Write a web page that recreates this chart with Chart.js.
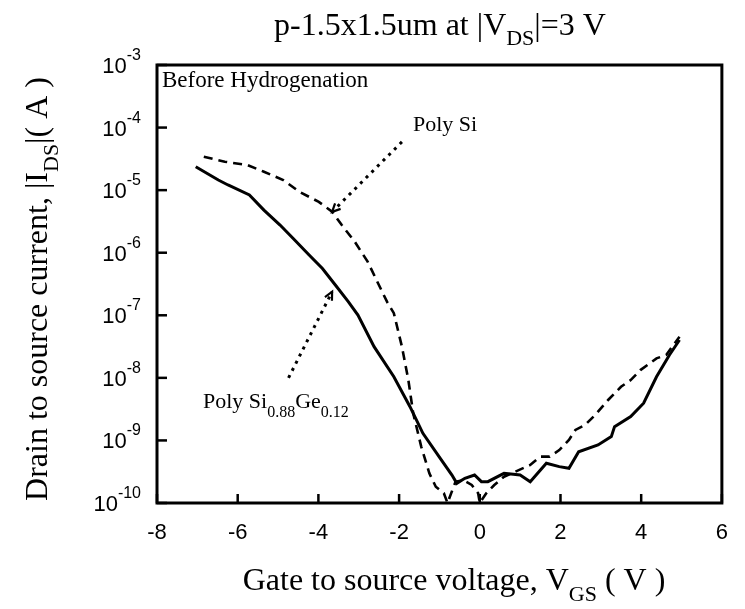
<!DOCTYPE html>
<html><head><meta charset="utf-8">
<script src="https://cdn.jsdelivr.net/npm/chart.js@4.4.1/dist/chart.umd.min.js"></script>
<style>html,body{margin:0;padding:0;background:#fff;}#wrap{width:745px;height:609px;}</style>
</head><body><div id="wrap"><canvas id="c" width="745" height="609"></canvas></div>
<script>
// ---- data ----
const vgsSiGe = [-7.04,-6.48,-6.24,-5.71,-5.35,-4.95,-4.63,-4.23,-3.90,-3.58,-3.26,-3.02,-2.62,-2.13,-1.73,-1.41,-1.01,-0.69,-0.57,-0.37,-0.13,0.04,0.20,0.60,1.00,1.25,1.65,1.97,2.21,2.45,2.93,3.26,3.34,3.74,4.06,4.38,4.70,4.95];
const idsSiGe = [2.37e-5,1.45e-5,1.21e-5,8.4e-6,4.8e-6,2.77e-6,1.70e-6,9.2e-7,5.6e-7,3.05e-7,1.65e-7,1.01e-7,3.15e-8,1.04e-8,3.46e-9,1.30e-9,5.5e-10,2.80e-10,2.06e-10,2.48e-10,2.80e-10,2.19e-10,2.19e-10,2.98e-10,2.80e-10,2.19e-10,4.31e-10,3.81e-10,3.58e-10,6.6e-10,8.45e-10,1.15e-9,1.66e-9,2.40e-9,3.93e-9,1.04e-8,2.32e-8,4.03e-8];
const vgsSi = [-6.84,-6.32,-5.76,-5.35,-4.87,-4.47,-3.99,-3.66,-3.42,-3.10,-2.78,-2.54,-2.30,-2.13,-1.93,-1.77,-1.65,-1.45,-1.25,-1.09,-0.89,-0.80,-0.60,-0.40,-0.20,-0.04,0.00,0.16,0.36,0.60,1.25,1.49,1.73,1.97,2.21,2.37,2.61,2.86,3.18,3.50,3.74,3.98,4.38,4.62,4.95];
const idsSi = [3.43e-5,2.85e-5,2.52e-5,1.97e-5,1.45e-5,9.4e-6,6.5e-6,4.52e-6,2.77e-6,1.50e-6,7.2e-7,3.44e-7,1.65e-7,1.08e-7,3.15e-8,9.2e-9,2.71e-9,7.9e-10,2.98e-10,1.82e-10,1.43e-10,1.0e-10,2.2e-10,2.3e-10,1.94e-10,1.43e-10,1.0e-10,1.43e-10,1.94e-10,2.63e-10,4.05e-10,5.5e-10,5.5e-10,7.0e-10,1.02e-9,1.47e-9,1.77e-9,2.55e-9,4.43e-9,7.2e-9,9.2e-9,1.33e-8,2.05e-8,2.32e-8,4.55e-8];
const xTickValues = [-8,-6,-4,-2,0,2,4,6];
const yTickExponents = [-3,-4,-5,-6,-7,-8,-9,-10];
// annotation arrows: [from V, from I, to V, to I]
const arrowPolySi = [-1.93, 5.9e-5, -3.66, 4.5e-6];
const arrowPolySiGe = [-4.74, 1.0e-8, -3.66, 2.38e-7];

const SERIF = '"Liberation Serif", "Times New Roman", serif';
const SANS = '"Liberation Sans", Arial, sans-serif';

function pts(xs, ys){ return xs.map((x,i)=>({x:x, y:ys[i]})); }

function drawRich(ctx, parts, x, y, align){
  let w = 0;
  parts.forEach(p => { ctx.font = p.size + 'px ' + p.fam; p.w = ctx.measureText(p.t).width; w += p.w; });
  let cx = align === 'center' ? x - w/2 : (align === 'right' ? x - w : x);
  ctx.textAlign = 'left'; ctx.textBaseline = 'alphabetic';
  parts.forEach(p => { ctx.font = p.size + 'px ' + p.fam; ctx.fillText(p.t, cx, y + (p.dy||0)); cx += p.w; });
}

function arrow(ctx, xs, ys, a){
  const x1 = xs.getPixelForValue(a[0]), y1 = ys.getPixelForValue(a[1]);
  const x2 = xs.getPixelForValue(a[2]), y2 = ys.getPixelForValue(a[3]);
  ctx.save();
  ctx.strokeStyle = '#000'; ctx.lineWidth = 3; ctx.setLineDash([3,5]); ctx.lineCap = 'butt';
  ctx.beginPath(); ctx.moveTo(x1,y1); ctx.lineTo(x2,y2); ctx.stroke();
  ctx.setLineDash([]); ctx.lineWidth = 2.2;
  const ang = Math.atan2(y2-y1, x2-x1), L = 9;
  ctx.beginPath();
  ctx.moveTo(x2 - L*Math.cos(ang-0.45), y2 - L*Math.sin(ang-0.45));
  ctx.lineTo(x2, y2);
  ctx.lineTo(x2 - L*Math.cos(ang+0.45), y2 - L*Math.sin(ang+0.45));
  ctx.stroke();
  ctx.restore();
}

const decor = {
  id: 'decor',
  afterDraw(chart){
    const ctx = chart.ctx, a = chart.chartArea;
    const xs = chart.scales.x, ys = chart.scales.y;
    ctx.save();
    ctx.fillStyle = '#000'; ctx.strokeStyle = '#000';
    // frame
    ctx.lineWidth = 3;
    ctx.strokeRect(a.left, a.top, a.right - a.left, a.bottom - a.top);
    // inward tick marks
    ctx.lineWidth = 2.5;
    xs.ticks.forEach(t => {
      const px = xs.getPixelForValue(t.value);
      ctx.beginPath(); ctx.moveTo(px, a.bottom); ctx.lineTo(px, a.bottom - 9); ctx.stroke();
    });
    ys.ticks.forEach(t => {
      const py = ys.getPixelForValue(t.value);
      ctx.beginPath(); ctx.moveTo(a.left, py); ctx.lineTo(a.left + 10, py); ctx.stroke();
    });
    // y tick labels 10^n
    yTickExponents.forEach(e => {
      const py = ys.getPixelForValue(Math.pow(10, e));
      ctx.font = '16px ' + SANS;
      const es = String(e);
      const ew = ctx.measureText(es).width;
      ctx.textAlign = 'right'; ctx.textBaseline = 'alphabetic';
      ctx.fillText(es, 141, py - 5);
      ctx.font = '22px ' + SANS;
      ctx.fillText('10', 141 - ew, py + 8);
    });
    // annotations
    arrow(ctx, xs, ys, arrowPolySi);
    arrow(ctx, xs, ys, arrowPolySiGe);
    drawRich(ctx, [{t:'Before Hydrogenation', size:23, fam:SERIF}], 162, 87, 'left');
    drawRich(ctx, [{t:'Poly Si', size:22, fam:SERIF}], 413, 131, 'left');
    drawRich(ctx, [
      {t:'Poly Si', size:22, fam:SERIF},
      {t:'0.88', size:16, fam:SERIF, dy:9},
      {t:'Ge', size:22, fam:SERIF},
      {t:'0.12', size:16, fam:SERIF, dy:9}
    ], 203, 408, 'left');
    // chart title
    drawRich(ctx, [
      {t:'p-1.5x1.5um at |V', size:32, fam:SERIF},
      {t:'DS', size:22, fam:SERIF, dy:10},
      {t:'|=3 V', size:32, fam:SERIF}
    ], 440, 35, 'center');
    // x axis title
    drawRich(ctx, [
      {t:'Gate to source voltage, V', size:32, fam:SERIF},
      {t:'GS', size:22, fam:SERIF, dy:11},
      {t:' ( V )', size:32, fam:SERIF}
    ], 454, 590, 'center');
    // y axis title (rotated)
    ctx.save();
    ctx.translate(47, 289);
    ctx.rotate(-Math.PI/2);
    drawRich(ctx, [
      {t:'Drain to source current, |I', size:32, fam:SERIF},
      {t:'DS', size:22, fam:SERIF, dy:11},
      {t:'|( A )', size:32, fam:SERIF}
    ], 0, 0, 'center');
    ctx.restore();
    ctx.restore();
  }
};

new Chart(document.getElementById('c'), {
  type: 'scatter',
  data: {
    datasets: [
      { label: 'Poly SiGe', data: pts(vgsSiGe, idsSiGe), showLine: true, borderColor: '#000', borderWidth: 3, pointRadius: 0, tension: 0 },
      { label: 'Poly Si', data: pts(vgsSi, idsSi), showLine: true, borderColor: '#000', borderWidth: 2.6, borderDash: [9,6], pointRadius: 0, tension: 0 }
    ]
  },
  options: {
    responsive: false, animation: false, devicePixelRatio: 1,
    layout: { padding: { top: 65, right: 8, left: 0, bottom: 0 } },
    plugins: { legend: { display: false }, tooltip: { enabled: false }, title: { display: false } },
    scales: {
      x: {
        type: 'linear', min: -8, max: 6,
        afterBuildTicks: s => { s.ticks = xTickValues.map(v => ({value: v})); },
        ticks: { color: '#000', font: { family: SANS, size: 22 }, padding: 17, maxRotation: 0, autoSkip: false, callback: v => String(v) },
        grid: { display: false, drawTicks: false }, border: { display: false },
        afterFit: s => { s.height = 106; }
      },
      y: {
        type: 'logarithmic', min: 1e-10, max: 1e-3,
        afterBuildTicks: s => { s.ticks = yTickExponents.map(e => ({value: Math.pow(10, e)})); },
        ticks: { display: false },
        grid: { display: false, drawTicks: false }, border: { display: false },
        afterFit: s => { s.width = 157; }
      }
    }
  },
  plugins: [decor]
});
</script>
</body></html>
